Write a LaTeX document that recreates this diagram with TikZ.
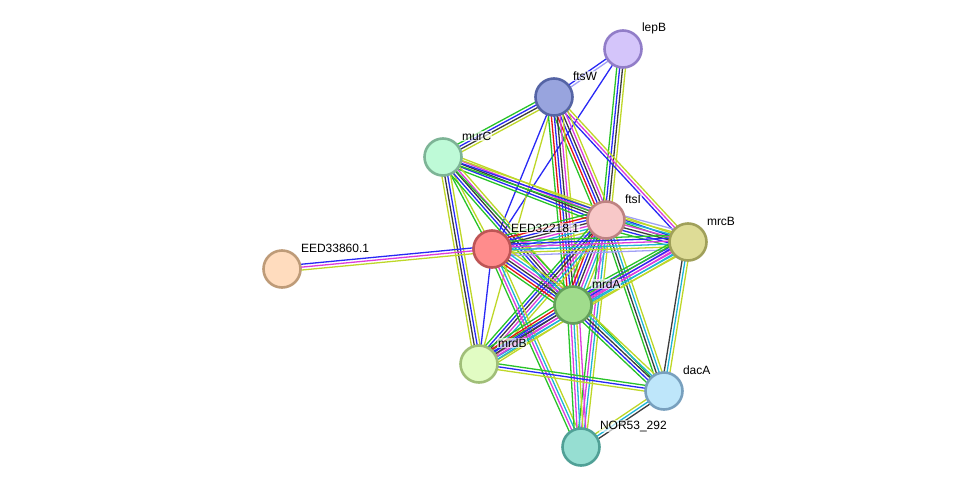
\documentclass[tikz,border=0pt]{standalone}
\usepackage{fontspec}
\setmainfont{Liberation Sans}
\usetikzlibrary{calc,backgrounds}
\definecolor{eg}{RGB}{40,195,40}
\definecolor{er}{RGB}{230,20,20}
\definecolor{eb}{RGB}{40,40,245}
\definecolor{ek}{RGB}{60,60,60}
\definecolor{em}{RGB}{220,60,220}
\definecolor{ec}{RGB}{30,180,215}
\definecolor{ey}{RGB}{190,215,40}
\definecolor{eh}{RGB}{160,160,245}
\tikzset{
  prot/.style={circle,minimum size=37pt,inner sep=0pt,line width=2.6pt},
  lab/.style={anchor=west,font=\fontsize{12}{14}\selectfont,fill=white,fill opacity=0.65,text opacity=1,inner sep=0.8pt},
  edgeline/.style={line width=1.3pt}
}
\newcommand\edge[3]{%
  \foreach \c [count=\i] in {#3} {\xdef\ncnt{\i}}%
  \foreach \c [count=\i] in {#3} {%
    \pgfmathsetmacro\off{(\i-(\ncnt+1)/2)*2.9}%
    \draw[\c,edgeline] ($(#1.center)!\off pt!90:(#2.center)$) -- ($(#2.center)!\off pt!-90:(#1.center)$);%
  }%
}
\begin{document}
\begin{tikzpicture}[x=1pt,y=-1pt]
\useasboundingbox (0,0) rectangle (975,493);
% nodes
\node[prot,fill={rgb,255:red,212;green,197;blue,250},draw={rgb,255:red,145;green,125;blue,200}] (L) at (623,49) {};
\node[prot,fill={rgb,255:red,152;green,164;blue,222},draw={rgb,255:red,85;green,100;blue,165}] (W) at (554,97) {};
\node[prot,fill={rgb,255:red,190;green,250;blue,215},draw={rgb,255:red,125;green,180;blue,150}] (C) at (443,157) {};
\node[prot,fill={rgb,255:red,248;green,200;blue,200},draw={rgb,255:red,190;green,130;blue,130}] (I) at (606,220) {};
\node[prot,fill={rgb,255:red,222;green,220;blue,150},draw={rgb,255:red,160;green,160;blue,90}] (B) at (688,242) {};
\node[prot,fill={rgb,255:red,255;green,140;blue,140},draw={rgb,255:red,190;green,85;blue,85}] (E) at (492,249) {};
\node[prot,fill={rgb,255:red,255;green,220;blue,190},draw={rgb,255:red,190;green,155;blue,120}] (X) at (282,269) {};
\node[prot,fill={rgb,255:red,160;green,220;blue,140},draw={rgb,255:red,100;green,160;blue,90}] (A) at (573,305) {};
\node[prot,fill={rgb,255:red,225;green,252;blue,195},draw={rgb,255:red,160;green,190;blue,120}] (D) at (479,364) {};
\node[prot,fill={rgb,255:red,190;green,230;blue,250},draw={rgb,255:red,120;green,160;blue,190}] (K) at (664,391) {};
\node[prot,fill={rgb,255:red,150;green,222;blue,210},draw={rgb,255:red,80;green,160;blue,150}] (N) at (581,447) {};
% edges
\begin{pgfonlayer}{background}
\edge{L}{W}{eb,eh}
\edge{L}{E}{eb}
\edge{L}{I}{eg,eb,ek,ey}
\edge{W}{B}{eb,em,ey}
\edge{W}{C}{eg,eb,ek,ey}
\edge{W}{E}{eb}
\edge{W}{D}{ey}
\edge{W}{I}{eg,er,eb,ek,em,ey}
\edge{W}{A}{eg,er,eb,ek,em,ey}
\edge{C}{I}{eg,eb,ek,em,ey}
\edge{C}{B}{eg,eb,ey}
\edge{C}{E}{eg,ey}
\edge{C}{A}{eg,eb,ek,em,ey}
\edge{C}{D}{ey,ek,eb,ey}
\edge{C}{K}{eg}
\edge{I}{B}{eg,eb,ek,em,ec,ey,eh}
\edge{I}{E}{eg,er,eb,ek,em,ec,ey,eh}
\edge{I}{A}{eg,er,eb,ek,em,ec,ey,eh}
\edge{I}{D}{eg,eb,ek,em,ec,ey}
\edge{I}{N}{eg,em,ec,ey}
\edge{I}{K}{eg,ek,ec,ey}
\edge{B}{E}{eg,eb,em,ec,ey,eh}
\edge{B}{A}{eg,eb,em,em,ec,ey}
\edge{B}{D}{eg,eb,em,ec,ey}
\edge{B}{K}{ek,ec,ey}
\edge{E}{X}{eb,em,ey}
\edge{E}{A}{eg,er,eb,ek,em,ec,ey}
\edge{E}{D}{eb}
\edge{E}{N}{eg,em,ec,ey}
\edge{A}{D}{eg,er,eb,ek,em,ec,ey}
\edge{A}{K}{eg,eb,ek,ec,ey}
\edge{A}{N}{eg,em,ec,ey,em}
\edge{D}{K}{ey,eb,eg}
\edge{K}{N}{ey,ec,ek}
\end{pgfonlayer}
% labels
\node[lab] (tL) at ($(L)+(18,-21)$) {lepB};
\node[lab] (tW) at ($(W)+(18,-21)$) {ftsW};
\node[lab] (tC) at ($(C)+(18,-21)$) {murC};
\node[lab] (tI) at ($(I)+(18,-21)$) {ftsI};
\node[lab] (tB) at ($(B)+(18,-21)$) {mrcB};
\node[lab] (tE) at ($(E)+(18,-21)$) {EED32218.1};
\node[lab] (tX) at ($(X)+(18,-21)$) {EED33860.1};
\node[lab] (tA) at ($(A)+(18,-21)$) {mrdA};
\node[lab] (tD) at ($(D)+(18,-21)$) {mrdB};
\node[lab] (tK) at ($(K)+(18,-21)$) {dacA};
\node[lab] (tN) at ($(N)+(18,-21)$) {NOR53\_292};
\end{tikzpicture}
\end{document}
